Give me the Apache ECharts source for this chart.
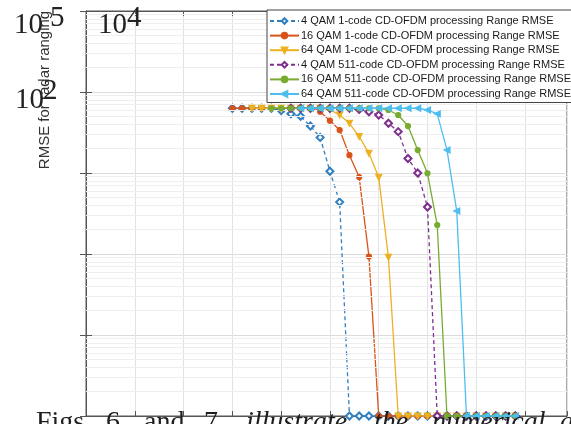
<!DOCTYPE html>
<html>
<head>
<meta charset="utf-8">
<script src="https://cdn.jsdelivr.net/npm/echarts@6/dist/echarts.min.js"></script>
<style>
html,body{margin:0;padding:0;background:#fff;}
#chart{width:571px;height:424px;}
</style>
</head>
<body>
<div id="chart"></div>
<script>
// SNR sample points (x axis units)
const snr = [15,16,17,18,19,20,21,22,23,24,25,26,27,28,29,30,31,32,33,34,35,36,37,38,39,40,41,42,43,44];
const seriesNames = [
  '4 QAM 1-code CD-OFDM processing Range RMSE',
  '16 QAM 1-code CD-OFDM processing Range RMSE',
  '64 QAM 1-code CD-OFDM processing Range RMSE',
  '4 QAM 511-code CD-OFDM processing Range RMSE',
  '16 QAM 511-code CD-OFDM processing Range RMSE',
  '64 QAM 511-code CD-OFDM processing Range RMSE'
];
const qam4_1 =   [6300,6300,6300,6300,6300,5890,5370,5010,3800,2750,1050,437,1,1,1,1,1,1,1,1,1,1,1,1,1,1,1,1,1,1];
const qam16_1 =  [6300,6300,6300,6300,6300,6300,6300,6300,6300,5710,4430,3390,1660,891,93,1,1,1,1,1,1,1,1,1,1,1,1,1,1,1];
const qam64_1 =  [null,null,6300,6300,6300,6300,6300,6300,6300,6300,6050,5200,4110,2820,1750,885,91,1,1,1,1,1,1,1,1,1,1,1,1,1];
const qam4_511 = [null,null,null,null,null,null,6300,6300,6300,6300,6300,6300,6300,6100,5710,5200,4110,3240,1510,1000,380,1,1,1,1,1,1,1,1,1];
const qam16_511 =[null,null,null,null,6300,6300,6300,6300,6300,6300,6300,6300,6300,6300,6300,6300,6000,5200,3800,1920,990,228,1,1,1,1,1,1,1,1];
const qam64_511 =[null,null,null,null,null,null,null,6300,6300,6300,6300,6300,6300,6300,6300,6300,6300,6300,6300,6300,6000,5370,1920,339,1,1,1,1,1,1];
const yTickDecades = [1,10,100,1000,10000,100000];

const colors = ['#2f7fc1','#D95319','#EDB120','#7E2F8E','#77AC30','#4DBEEE'];
const allData = [qam4_1,qam16_1,qam64_1,qam4_511,qam16_511,qam64_511];
const symbols = ['emptyDiamond','circle','triangle','emptyDiamond','circle','triangle'];
const rot = [0,0,180,0,0,90];
const sizes = [7,5,6,7,5,6];
const dashed = [true,false,false,true,false,false];

const X_MIN = 0, X_MAX = 49.3;

// minor log grid values
const minorVals = [];
for (let d = 0; d < 5; d++) for (let m = 2; m <= 9; m++) minorVals.push(m * yTickDecades[d]);

const series = allData.map((arr,i) => ({
  name: seriesNames[i],
  type: 'line',
  data: arr.map((v,j) => [snr[j], v]),
  symbol: symbols[i],
  symbolSize: sizes[i],
  symbolRotate: rot[i],
  showAllSymbol: true,
  z: 3 + i,
  lineStyle: {color: colors[i], width: 1.3, type: dashed[i] ? [4,3] : 'solid'},
  itemStyle: {color: colors[i], borderColor: colors[i], borderWidth: 1.2},
  emphasis: {disabled: true},
  animation: false
}));

series.unshift({
  name: 'minorgrid',
  type: 'line',
  data: [],
  z: 1,
  silent: true,
  markLine: {
    silent: true, symbol: 'none', animation: false,
    label: {show: false},
    lineStyle: {color: '#eeeeee', width: 1, type: 'solid'},
    emphasis: {disabled: true},
    data: minorVals.map(v => ({yAxis: v}))
  }
});
series.unshift({
  name: 'minorticks',
  type: 'line',
  data: [],
  z: 2,
  silent: true,
  markLine: {
    silent: true, symbol: 'none', animation: false,
    label: {show: false},
    lineStyle: {color: '#555', width: 1, type: 'solid'},
    emphasis: {disabled: true},
    data: minorVals.map(v => [{coord: [X_MIN, v]}, {coord: [X_MIN + 0.35, v]}])
      .concat(minorVals.map(v => [{coord: [X_MAX, v]}, {coord: [X_MAX - 0.35, v]}]))
  }
});

const serifText = (txt, x, y, italic) => ({
  type: 'text', x: x, y: y, z: 100,
  style: {text: txt, font: (italic ? 'italic ' : '') + '28px "Liberation Serif"', fill: '#1e1e1e', verticalAlign: 'middle', align: 'left'}
});
const expText = (txt, x, y) => ({
  type: 'text', x: x, y: y, z: 100,
  style: {text: txt, font: '29px "Liberation Serif"', fill: '#222', verticalAlign: 'middle', align: 'left'}
});

const chart = echarts.init(document.getElementById('chart'), null, {renderer: 'canvas'});
chart.setOption({
  animation: false,
  backgroundColor: '#fff',
  grid: {left: 86, top: 11, right: 4, bottom: 8, show: true, borderColor: '#555', borderWidth: 1, backgroundColor: 'transparent'},
  xAxis: [{
    type: 'value', min: X_MIN, max: X_MAX, interval: 5,
    axisLine: {show: true, onZero: false, lineStyle: {color: '#555'}},
    axisTick: {show: true, inside: true, length: 5, lineStyle: {color: '#555'}},
    axisLabel: {show: false},
    splitLine: {show: true, lineStyle: {color: '#e2e2e2', width: 1}}
  },{
    type: 'value', min: X_MIN, max: X_MAX, interval: 5, position: 'top',
    axisLine: {show: true, lineStyle: {color: '#555'}},
    axisTick: {show: true, inside: true, length: 5, lineStyle: {color: '#555'}},
    axisLabel: {show: false}, splitLine: {show: false}
  }],
  yAxis: [{
    type: 'log', logBase: 10, min: 1, max: 100000,
    axisLine: {show: true, lineStyle: {color: '#555'}},
    axisTick: {show: true, inside: true, length: 6, lineStyle: {color: '#555'}},
    axisLabel: {show: false},
    splitLine: {show: true, lineStyle: {color: '#dcdcdc', width: 1}}
  },{
    type: 'log', logBase: 10, min: 1, max: 100000, position: 'right',
    axisLine: {show: true, lineStyle: {color: '#555'}},
    axisTick: {show: true, inside: true, length: 6, lineStyle: {color: '#555'}},
    axisLabel: {show: false}, splitLine: {show: false}
  }],
  legend: {
    data: seriesNames,
    orient: 'vertical',
    left: 267, top: 10,
    z: 50,
    padding: [5.5, 3, 3, 2],
    itemWidth: 29, itemHeight: 7, itemGap: 3.6,
    backgroundColor: '#fff',
    borderColor: '#444', borderWidth: 1,
    selectedMode: false,
    textStyle: {fontFamily: '"Liberation Sans", Arial', fontSize: 11, color: '#1a1a1a', padding: [0,0,0,-3]}
  },
  series: series,
  graphic: [
    {type: 'text', x: 45, y: 90, rotation: Math.PI/2, z: 90,
     style: {text: 'RMSE for radar ranging', font: '15px "Liberation Sans"', fill: '#333', align: 'center', verticalAlign: 'middle'}},
    expText('10', 14, 25), expText('5', 50, 18),
    expText('10', 98, 25.5), expText('4', 127, 18),
    expText('10', 15, 100), expText('2', 43, 91),
    serifText('Figs.', 36, 423, false),
    serifText('6', 106, 423, false),
    serifText('and', 144, 423, false),
    serifText('7', 204, 423, false),
    serifText('illustrate', 246, 423, true),
    serifText('the', 374, 423, true),
    serifText('numerical', 432, 423, true),
    serifText('a', 560, 423, true)
  ]
});
</script>
</body>
</html>
